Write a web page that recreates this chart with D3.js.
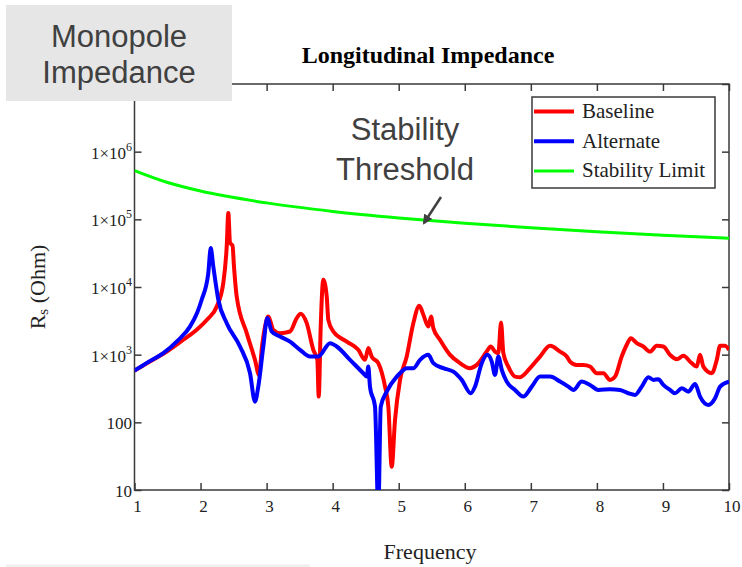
<!DOCTYPE html>
<html>
<head>
<meta charset="utf-8">
<script src="https://cdn.jsdelivr.net/npm/d3@7"></script>
<style>
  body { margin: 0; background: #fff; }
  svg { display: block; }
</style>
</head>
<body>
<svg id="chart" width="742" height="567"></svg>
<script>
// values: [frequency, Rs (Ohm)]
var baseline = [
  [1.0, 580], [1.2, 760], [1.436, 1030], [1.7, 1560], [1.942, 2330], [2.1, 3300], [2.245, 5150], [2.344, 11400], [2.396, 39700],
  [2.42, 124000], [2.446, 45100], [2.484, 41000], [2.506, 20100], [2.547, 7230], [2.699, 2080],
  [2.824, 838], [2.885, 502], [2.93, 1320], [2.976, 2600], [3.026, 3660], [3.101, 2330],
  [3.203, 2080], [3.354, 2200], [3.456, 3470], [3.516, 4020], [3.607, 2920], [3.707, 1180],
  [3.768, 838], [3.789, 240], [3.819, 2600], [3.858, 12800], [3.91, 7230], [3.934, 3270],
  [4.01, 2200], [4.213, 1560], [4.388, 1180], [4.49, 838], [4.54, 1250], [4.591, 938],
  [4.691, 748], [4.793, 337], [4.843, 171], [4.894, 22], [4.944, 109], [5.02, 424],
  [5.121, 938], [5.221, 2920], [5.312, 5270], [5.373, 3880], [5.448, 2600], [5.489, 3660],
  [5.524, 2470], [5.625, 1660], [5.777, 993], [5.928, 748], [6.08, 631], [6.181, 706],
  [6.332, 1110], [6.393, 1320], [6.458, 1110], [6.508, 1050], [6.549, 2990], [6.584, 1050],
  [6.659, 667], [6.761, 474], [6.837, 465], [6.988, 631], [7.139, 938], [7.291, 1350],
  [7.442, 1110], [7.544, 938], [7.593, 791], [7.695, 706], [7.795, 706], [7.896, 667],
  [7.998, 532], [8.098, 532], [8.199, 424], [8.275, 474], [8.376, 938], [8.452, 1400],
  [8.513, 1750], [8.603, 1480], [8.703, 1320], [8.805, 1110], [8.906, 1350], [9.006, 1320],
  [9.107, 993], [9.209, 857], [9.309, 960], [9.436, 748], [9.512, 667], [9.562, 993],
  [9.612, 667], [9.739, 532], [9.815, 838], [9.865, 1350], [9.941, 1350], [10.0, 1180]
];

var alternate = [
  [1.0, 580], [1.2, 770], [1.436, 1050], [1.65, 1600], [1.84, 2600], [1.95, 4200], [2.017, 6480], [2.117, 16000], [2.154, 37600],
  [2.193, 20100], [2.269, 6480], [2.396, 2920], [2.597, 1320], [2.749, 532], [2.824, 202],
  [2.874, 337], [2.95, 1320], [3.011, 3470], [3.077, 2200], [3.203, 1850], [3.354, 1560],
  [3.506, 1180], [3.657, 938], [3.783, 938], [3.96, 1480], [4.061, 1320], [4.263, 838],
  [4.464, 532], [4.516, 474], [4.54, 667], [4.565, 337], [4.641, 171], [4.691, 5],
  [4.728, 171], [4.818, 284], [4.97, 474], [5.02, 532], [5.121, 631], [5.221, 631],
  [5.323, 838], [5.448, 993], [5.524, 748], [5.675, 631], [5.827, 562], [5.954, 424],
  [6.09, 269], [6.155, 337], [6.257, 748], [6.341, 993], [6.408, 791], [6.458, 502],
  [6.508, 938], [6.56, 596], [6.635, 400], [6.761, 301], [6.886, 240], [7.014, 337],
  [7.139, 474], [7.291, 474], [7.442, 400], [7.568, 337], [7.644, 301], [7.771, 400],
  [7.896, 357], [8.022, 301], [8.199, 309], [8.351, 301], [8.476, 269], [8.578, 254],
  [8.679, 337], [8.779, 465], [8.855, 424], [8.93, 434], [9.006, 357], [9.107, 301],
  [9.183, 269], [9.285, 319], [9.385, 284], [9.486, 370], [9.562, 240], [9.688, 181],
  [9.789, 227], [9.865, 337], [10.0, 400]
];

var stabilityLimit = [
  [1, 525000], [1.5, 350000], [2, 262000], [3, 175000], [4, 131000], [5, 105000],
  [6, 87500], [7, 75000], [8, 65600], [9, 58300], [10, 52500]
];

var xTicks = [1, 2, 3, 4, 5, 6, 7, 8, 9, 10];
var yTicks = [10, 100, 1e3, 1e4, 1e5, 1e6, 1e7];
var legendNames = ['Baseline', 'Alternate', 'Stability Limit'];
var legendColors = ['#ff0000', '#0000ff', '#00ff00'];

var svg = d3.select('#chart');
var serif = '"Liberation Serif", "Times New Roman", serif';
var sans = '"Liberation Sans", Arial, sans-serif';
var axisColor = '#3a3a3a';

var plot = {left: 134.5, right: 729, top: 84, bottom: 490};

var x = d3.scaleLinear().domain([1, 10]).range([plot.left, plot.right]);
var y = d3.scaleLog().domain([10, 1e7]).range([plot.bottom, plot.top]);

// clip so the deep dip stays inside the frame
svg.append('defs').append('clipPath').attr('id', 'plotClip')
  .append('rect')
  .attr('x', plot.left).attr('y', plot.top)
  .attr('width', plot.right - plot.left).attr('height', plot.bottom - plot.top);

// title
svg.append('text')
  .attr('x', 428).attr('y', 63)
  .attr('text-anchor', 'middle')
  .style('font-family', serif).style('font-weight', 'bold').style('font-size', '24px')
  .text('Longitudinal Impedance');

// axes: ticks drawn inward on all four sides
var tickLen = 7;
var axes = svg.append('g').attr('class', 'axes');

axes.append('g')
  .attr('transform', 'translate(0,' + plot.bottom + ')')
  .call(d3.axisTop(x).tickValues(xTicks).tickSize(tickLen).tickFormat(''));
axes.append('g')
  .attr('transform', 'translate(0,' + plot.top + ')')
  .call(d3.axisBottom(x).tickValues(xTicks).tickSize(tickLen).tickFormat(''));
axes.append('g')
  .attr('transform', 'translate(' + plot.left + ',0)')
  .call(d3.axisRight(y).tickValues(yTicks).tickSize(tickLen).tickFormat(''));
axes.append('g')
  .attr('transform', 'translate(' + plot.right + ',0)')
  .call(d3.axisLeft(y).tickValues(yTicks).tickSize(tickLen).tickFormat(''));

axes.selectAll('.domain').remove();
axes.selectAll('.tick line').attr('stroke', axisColor).attr('stroke-width', 1.5);

// frame
svg.append('rect')
  .attr('x', plot.left).attr('y', plot.top)
  .attr('width', plot.right - plot.left).attr('height', plot.bottom - plot.top)
  .attr('fill', 'none').attr('stroke', axisColor).attr('stroke-width', 1.5);

// x tick labels
svg.append('g').selectAll('text')
  .data(xTicks)
  .enter().append('text')
  .attr('x', function(d) { return x(d) + 3; })
  .attr('y', 512)
  .attr('text-anchor', 'middle')
  .style('font-family', serif).style('font-size', '17px').style('fill', '#222')
  .text(function(d) { return d; });

// y tick labels (top decade left unlabeled)
var yLab = svg.append('g').selectAll('text')
  .data(yTicks.filter(function(d) { return d < 1e7; }))
  .enter().append('text')
  .attr('x', 132)
  .attr('y', function(d) { return y(d) + 7; })
  .attr('text-anchor', 'end')
  .style('font-family', serif).style('font-size', '17px').style('fill', '#222');

yLab.each(function(d) {
  var t = d3.select(this);
  var p = Math.round(Math.log10(d));
  if (p <= 2) {
    t.text(d);
  } else {
    t.append('tspan').text('1\u00d710');
    t.append('tspan').attr('dy', -8).style('font-size', '12px').text(p);
  }
});

// axis titles
svg.append('text')
  .attr('x', 430).attr('y', 559)
  .attr('text-anchor', 'middle')
  .style('font-family', serif).style('font-size', '22px').style('fill', '#222')
  .text('Frequency');

var yTitle = svg.append('text')
  .attr('transform', 'translate(45,287) rotate(-90)')
  .attr('text-anchor', 'middle')
  .style('font-family', serif).style('font-size', '22px').style('fill', '#222');
yTitle.append('tspan').text('R');
yTitle.append('tspan').attr('dy', 3).style('font-size', '15px').text('s');
yTitle.append('tspan').attr('dy', -3).text(' (Ohm)');

// traces
var line = d3.line()
  .curve(d3.curveMonotoneX)
  .x(function(d) { return x(d[0]); })
  .y(function(d) { return y(d[1]); });

var traces = svg.append('g').attr('clip-path', 'url(#plotClip)');

traces.append('path')
  .datum(baseline)
  .attr('d', line)
  .attr('fill', 'none').attr('stroke', legendColors[0])
  .attr('stroke-width', 4).attr('stroke-linejoin', 'round');

traces.append('path')
  .datum(alternate)
  .attr('d', line)
  .attr('fill', 'none').attr('stroke', legendColors[1])
  .attr('stroke-width', 4).attr('stroke-linejoin', 'round');

traces.append('path')
  .datum(stabilityLimit)
  .attr('d', line)
  .attr('fill', 'none').attr('stroke', legendColors[2])
  .attr('stroke-width', 3);

// legend
var legend = svg.append('g');
legend.append('rect')
  .attr('x', 532).attr('y', 97).attr('width', 183).attr('height', 91)
  .attr('fill', '#fff').attr('stroke', axisColor).attr('stroke-width', 1.5);

var items = legend.selectAll('g.item')
  .data(legendNames)
  .enter().append('g')
  .attr('class', 'item')
  .attr('transform', function(d, i) { return 'translate(0,' + (111.5 + i * 29.7) + ')'; });

items.append('line')
  .attr('x1', 534).attr('x2', 574)
  .attr('stroke', function(d, i) { return legendColors[i]; })
  .attr('stroke-width', function(d, i) { return i < 2 ? 4 : 3; });

items.append('text')
  .attr('x', 582).attr('y', 6.5)
  .style('font-family', serif).style('font-size', '21px').style('fill', '#222')
  .text(function(d) { return d; });

// slide annotations
svg.append('rect')
  .attr('x', 6).attr('y', 5).attr('width', 226).attr('height', 96)
  .attr('fill', '#e6e6e6');

var boxText = svg.append('text')
  .attr('text-anchor', 'middle')
  .style('font-family', sans).style('font-size', '31px').style('fill', '#404040');
boxText.append('tspan').attr('x', 119).attr('y', 47).text('Monopole');
boxText.append('tspan').attr('x', 119).attr('y', 83).text('Impedance');

var note = svg.append('text')
  .attr('text-anchor', 'middle')
  .style('font-family', sans).style('font-size', '31px').style('fill', '#404040');
note.append('tspan').attr('x', 405).attr('y', 140).text('Stability');
note.append('tspan').attr('x', 405).attr('y', 180).text('Threshold');

svg.select('defs').append('marker')
  .attr('id', 'arrowHead')
  .attr('viewBox', '0 0 10 10')
  .attr('refX', 8).attr('refY', 5)
  .attr('markerWidth', 4).attr('markerHeight', 4)
  .attr('orient', 'auto')
  .append('path')
  .attr('d', 'M0,0 L10,5 L0,10 Z')
  .attr('fill', '#404040');

svg.append('line')
  .attr('x1', 441).attr('y1', 197).attr('x2', 424).attr('y2', 223)
  .attr('stroke', '#404040').attr('stroke-width', 2.5)
  .attr('marker-end', 'url(#arrowHead)');

// faint strip along the bottom edge
svg.append('rect')
  .attr('x', 6).attr('y', 564.5).attr('width', 304).attr('height', 2.5)
  .attr('fill', '#efefef');
</script>
</body>
</html>
